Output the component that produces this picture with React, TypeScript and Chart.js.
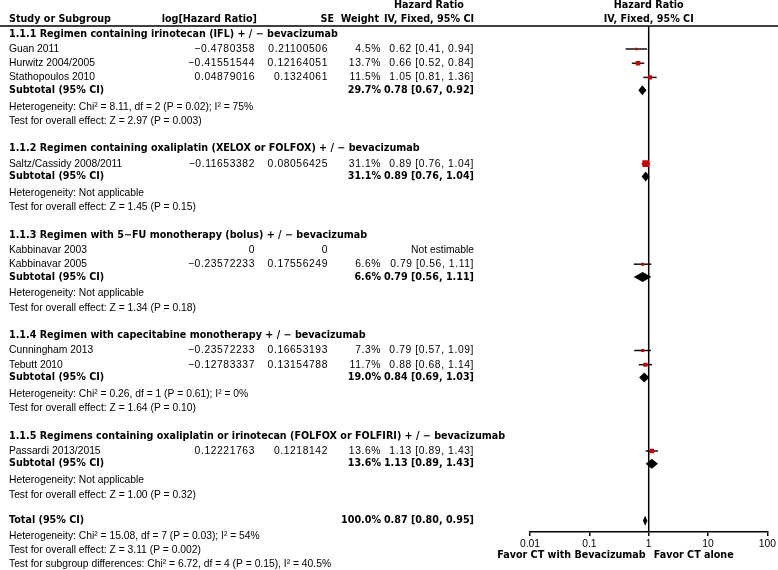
import React, { useEffect, useRef } from 'react';
import { Chart, registerables } from 'chart.js';

Chart.register(...registerables);

// ---------- data ----------
const groupTitles = [
  '1.1.1 Regimen containing irinotecan (IFL) + / − bevacizumab',
  '1.1.2 Regimen containing oxaliplatin (XELOX or FOLFOX) + / − bevacizumab',
  '1.1.3 Regimen with 5−FU monotherapy (bolus) + / − bevacizumab',
  '1.1.4 Regimen with capecitabine monotherapy + / − bevacizumab',
  '1.1.5 Regimens containing oxaliplatin or irinotecan (FOLFOX or FOLFIRI) + / − bevacizumab',
];

const studyNames = [
  'Guan 2011',
  'Hurwitz 2004/2005',
  'Stathopoulos 2010',
  'Saltz/Cassidy 2008/2011',
  'Kabbinavar 2003',
  'Kabbinavar 2005',
  'Cunningham 2013',
  'Tebutt 2010',
  'Passardi 2013/2015',
];
const studyGroup = [0, 0, 0, 1, 2, 2, 3, 3, 4];
const studyLogHR = ['−0.4780358', '−0.41551544', '0.04879016', '−0.11653382', '0', '−0.23572233', '−0.23572233', '−0.12783337', '0.12221763'];
const studySE = ['0.21100506', '0.12164051', '0.1324061', '0.08056425', '0', '0.17556249', '0.16653193', '0.13154788', '0.1218142'];
const studyWeight: (number | null)[] = [4.5, 13.7, 11.5, 31.1, null, 6.6, 7.3, 11.7, 13.6];
const studyHR: (number | null)[] = [0.62, 0.66, 1.05, 0.89, null, 0.79, 0.79, 0.88, 1.13];
const studyLo: (number | null)[] = [0.41, 0.52, 0.81, 0.76, null, 0.56, 0.57, 0.68, 0.89];
const studyHi: (number | null)[] = [0.94, 0.84, 1.36, 1.04, null, 1.11, 1.09, 1.14, 1.43];

const subWeight = [29.7, 31.1, 6.6, 19.0, 13.6];
const subHR = [0.78, 0.89, 0.79, 0.84, 1.13];
const subLo = [0.67, 0.76, 0.56, 0.69, 0.89];
const subHi = [0.92, 1.04, 1.11, 1.03, 1.43];
const hetTexts = [
  'Heterogeneity: Chi² = 8.11, df = 2 (P = 0.02); I² = 75%',
  'Heterogeneity: Not applicable',
  'Heterogeneity: Not applicable',
  'Heterogeneity: Chi² = 0.26, df = 1 (P = 0.61); I² = 0%',
  'Heterogeneity: Not applicable',
];
const testTexts = [
  'Test for overall effect: Z = 2.97 (P = 0.003)',
  'Test for overall effect: Z = 1.45 (P = 0.15)',
  'Test for overall effect: Z = 1.34 (P = 0.18)',
  'Test for overall effect: Z = 1.64 (P = 0.10)',
  'Test for overall effect: Z = 1.00 (P = 0.32)',
];

const totalWeight = 100.0;
const totalHR = 0.87;
const totalLo = 0.8;
const totalHi = 0.95;
const totalNotes = [
  'Heterogeneity: Chi² = 15.08, df = 7 (P = 0.03); I² = 54%',
  'Test for overall effect: Z = 3.11 (P = 0.002)',
  'Test for subgroup differences: Chi² = 6.72, df = 4 (P = 0.15), I² = 40.5%',
];

const axisTicks = [0.01, 0.1, 1, 10, 100];
const axisTickLabels = ['0.01', '0.1', '1', '10', '100'];
const favorLabels = ['Favor CT with Bevacizumab', 'Favor CT alone'];
const headerTop = ['Hazard Ratio', 'Hazard Ratio'];
const headerBottom = ['Study or Subgroup', 'log[Hazard Ratio]', 'SE', 'Weight', 'IV, Fixed, 95% CI', 'IV, Fixed, 95% CI'];

// ---------- style / layout ----------
const W = 778;
const H = 570;
const FS = 10.3;
const FS_BOLD = 9.6;
const FONT = '"Liberation Sans", Arial, sans-serif';
const FONT_BOLD = '"DejaVu Sans", Verdana, sans-serif';
const NUM_SPACING = '0.6px';
const RED = '#cc0000';
const AREA_TOP = 26;
const AXIS_H = 38;
const AREA_H = H - AREA_TOP - AXIS_H;
const COL = { name: 9, logHR: 255, se: 328, weight: 381, hr: 474, hrHead: 429, logHead: 257, seHead: 334, wHead: 379 };
const GAP = {
  start: 8, headToStudy: 15, studyToStudy: 14.2, studyToSub: 12.8, subToHet: 16.5,
  hetToTest: 14.5, testToHead: 27.5, testToTotal: 26, totalToNote: 15.5, noteToNote: 14,
};
const SQUARE_K = 0.85; // point radius per sqrt(weight)
const DIAMOND_HALF_H = 5;

type Row = { kind: string; idx: number; y: number };

function buildRows(): Row[] {
  const rows: Row[] = [];
  let y = GAP.start;
  groupTitles.forEach((_, g) => {
    if (g > 0) y += GAP.testToHead;
    rows.push({ kind: 'group', idx: g, y });
    let first = true;
    studyNames.forEach((_, s) => {
      if (studyGroup[s] !== g) return;
      y += first ? GAP.headToStudy : GAP.studyToStudy;
      first = false;
      rows.push({ kind: 'study', idx: s, y });
    });
    y += GAP.studyToSub;
    rows.push({ kind: 'subtotal', idx: g, y });
    y += GAP.subToHet;
    rows.push({ kind: 'het', idx: g, y });
    y += GAP.hetToTest;
    rows.push({ kind: 'test', idx: g, y });
  });
  y += GAP.testToTotal;
  rows.push({ kind: 'total', idx: 0, y });
  totalNotes.forEach((_, i) => {
    y += i === 0 ? GAP.totalToNote : GAP.noteToNote;
    rows.push({ kind: 'note', idx: i, y });
  });
  return rows;
}

const fmtCI = (hr: number, lo: number, hi: number) => `${hr.toFixed(2)} [${lo.toFixed(2)}, ${hi.toFixed(2)}]`;

export default function App() {
  const ref = useRef<HTMLCanvasElement | null>(null);

  useEffect(() => {
    if (!ref.current) return;
    const rows = buildRows();
    const studyRows = rows.filter((r) => r.kind === 'study' && studyHR[r.idx] != null);
    const subRows = rows.filter((r) => r.kind === 'subtotal');
    const totalRow = rows.find((r) => r.kind === 'total')!;

    const forestPlugin = {
      id: 'forest',
      beforeDatasetsDraw(chart: any) {
        const { ctx, chartArea, scales } = chart;
        const x = scales.x;
        const y = scales.y;
        ctx.save();
        ctx.strokeStyle = '#000';
        ctx.lineWidth = 1.5;
        ctx.beginPath();
        ctx.moveTo(0, chartArea.top);
        ctx.lineTo(W, chartArea.top);
        ctx.stroke();
        const x1 = x.getPixelForValue(1);
        ctx.beginPath();
        ctx.moveTo(x1, chartArea.top);
        ctx.lineTo(x1, chartArea.bottom);
        ctx.stroke();
        ctx.strokeStyle = '#111';
        ctx.lineWidth = 1.5;
        studyRows.forEach((r) => {
          const py = y.getPixelForValue(r.y);
          ctx.beginPath();
          ctx.moveTo(x.getPixelForValue(studyLo[r.idx] as number), py);
          ctx.lineTo(x.getPixelForValue(studyHi[r.idx] as number), py);
          ctx.stroke();
        });
        ctx.restore();
      },
      afterDatasetsDraw(chart: any) {
        const { ctx, scales } = chart;
        const x = scales.x;
        const y = scales.y;
        const diamond = (est: number, lo: number, hi: number, yy: number) => {
          const py = y.getPixelForValue(yy);
          ctx.beginPath();
          ctx.moveTo(x.getPixelForValue(lo), py);
          ctx.lineTo(x.getPixelForValue(est), py - DIAMOND_HALF_H);
          ctx.lineTo(x.getPixelForValue(hi), py);
          ctx.lineTo(x.getPixelForValue(est), py + DIAMOND_HALF_H);
          ctx.closePath();
          ctx.fill();
        };
        ctx.save();
        ctx.fillStyle = '#000';
        subRows.forEach((r) => diamond(subHR[r.idx], subLo[r.idx], subHi[r.idx], r.y));
        diamond(totalHR, totalLo, totalHi, totalRow.y);
        ctx.restore();
      },
      afterDraw(chart: any) {
        const { ctx, scales, chartArea } = chart;
        const x = scales.x;
        const y = scales.y;
        const x1 = x.getPixelForValue(1);
        const text = (s: string, px: number, py: number, align: string, bold = false, num = false) => {
          ctx.font = bold ? `bold ${FS_BOLD}px ${FONT_BOLD}` : `${FS}px ${FONT}`;
          ctx.letterSpacing = num && !bold ? NUM_SPACING : '0px';
          ctx.textAlign = align;
          ctx.fillText(s, px, py);
        };
        ctx.save();
        ctx.fillStyle = '#000';
        ctx.textBaseline = 'middle';
        const hy1 = chartArea.top - 21;
        const hy2 = chartArea.top - 7;
        text(headerTop[0], COL.hrHead, hy1, 'center', true);
        text(headerTop[1], x1, hy1, 'center', true);
        text(headerBottom[0], COL.name, hy2, 'left', true);
        text(headerBottom[1], COL.logHead, hy2, 'right', true);
        text(headerBottom[2], COL.seHead, hy2, 'right', true);
        text(headerBottom[3], COL.wHead, hy2, 'right', true);
        text(headerBottom[4], COL.hrHead, hy2, 'center', true);
        text(headerBottom[5], x1, hy2, 'center', true);

        rows.forEach((r) => {
          const py = y.getPixelForValue(r.y);
          if (r.kind === 'group') {
            text(groupTitles[r.idx], COL.name, py, 'left', true);
          } else if (r.kind === 'study') {
            const i = r.idx;
            text(studyNames[i], COL.name, py, 'left');
            text(studyLogHR[i], COL.logHR, py, 'right', false, true);
            text(studySE[i], COL.se, py, 'right', false, true);
            if (studyHR[i] != null) {
              text(`${(studyWeight[i] as number).toFixed(1)}%`, COL.weight, py, 'right', false, true);
              text(fmtCI(studyHR[i] as number, studyLo[i] as number, studyHi[i] as number), COL.hr, py, 'right', false, true);
            } else {
              text('Not estimable', COL.hr, py, 'right');
            }
          } else if (r.kind === 'subtotal') {
            text('Subtotal (95% CI)', COL.name, py, 'left', true);
            text(`${subWeight[r.idx].toFixed(1)}%`, COL.weight, py, 'right', true);
            text(fmtCI(subHR[r.idx], subLo[r.idx], subHi[r.idx]), COL.hr, py, 'right', true);
          } else if (r.kind === 'het') {
            text(hetTexts[r.idx], COL.name, py, 'left');
          } else if (r.kind === 'test') {
            text(testTexts[r.idx], COL.name, py, 'left');
          } else if (r.kind === 'total') {
            text('Total (95% CI)', COL.name, py, 'left', true);
            text(`${totalWeight.toFixed(1)}%`, COL.weight, py, 'right', true);
            text(fmtCI(totalHR, totalLo, totalHi), COL.hr, py, 'right', true);
          } else if (r.kind === 'note') {
            text(totalNotes[r.idx], COL.name, py, 'left');
          }
        });
        const fy = chartArea.bottom + 23;
        text(favorLabels[0], x1 - 3, fy, 'right', true);
        text(favorLabels[1], x1 + 5, fy, 'left', true);
        ctx.restore();
      },
    };

    const chart = new Chart(ref.current, {
      type: 'scatter',
      data: {
        datasets: [
          {
            data: studyRows.map((r) => ({ x: studyHR[r.idx] as number, y: r.y })),
            pointStyle: 'rect',
            pointRadius: studyRows.map((r) => SQUARE_K * Math.sqrt(studyWeight[r.idx] as number)),
            backgroundColor: RED,
            borderWidth: 0,
          },
        ],
      },
      options: {
        responsive: false,
        animation: false,
        devicePixelRatio: 1,
        events: [],
        layout: { padding: { left: 530, right: 10, top: AREA_TOP, bottom: 0 } },
        plugins: { legend: { display: false }, tooltip: { enabled: false } },
        scales: {
          x: {
            type: 'logarithmic',
            min: 0.01,
            max: 100,
            position: 'bottom',
            afterBuildTicks: (axis: any) => {
              axis.ticks = axisTicks.map((v) => ({ value: v }));
            },
            afterFit: (axis: any) => {
              axis.height = AXIS_H;
            },
            ticks: {
              autoSkip: false,
              maxRotation: 0,
              padding: 2,
              color: '#000',
              font: { family: FONT, size: FS },
              callback: (v: any) => {
                const i = axisTicks.indexOf(Number(v));
                return i >= 0 ? axisTickLabels[i] : '';
              },
            },
            grid: { drawOnChartArea: false, drawTicks: true, tickLength: 4, color: '#000', lineWidth: 1.5 },
            border: { display: true, color: '#000', width: 1.5 },
          },
          y: {
            type: 'linear',
            display: false,
            min: 0,
            max: AREA_H,
            reverse: true,
          },
        },
      },
      plugins: [forestPlugin],
    } as any);
    return () => chart.destroy();
  }, []);

  return (
    <div style={{ position: 'fixed', left: 0, top: 0, width: W, height: H, background: '#fff' }}>
      <canvas ref={ref} width={W} height={H} style={{ width: W, height: H, display: 'block' }} />
    </div>
  );
}
